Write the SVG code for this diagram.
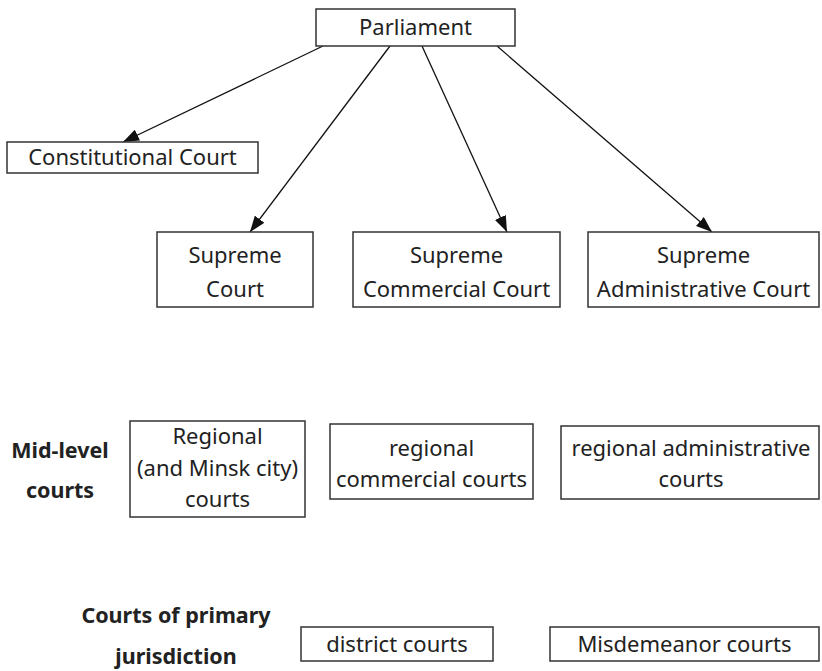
<svg xmlns="http://www.w3.org/2000/svg" width="822" height="671" viewBox="0 0 822 671">
<defs>
<style>
.box{fill:#fff;stroke:#333;stroke-width:1.5}
.t{font-family:"Noto Sans","Open Sans",sans-serif;font-size:22px;fill:#222;text-anchor:middle}
.b{font-family:"Noto Sans","Open Sans",sans-serif;font-size:21.5px;font-weight:bold;fill:#222;text-anchor:middle}
.c{stroke:#111;stroke-width:1.3;fill:none;marker-end:url(#ah)}
</style>
<marker id="ah" viewBox="0 0 16 12" refX="16" refY="6" markerWidth="16" markerHeight="12" markerUnits="userSpaceOnUse" orient="auto">
<path d="M0,0 L16,6 L0,12 z" fill="#111"/>
</marker>
</defs>
<rect width="822" height="671" fill="#fff"/>
<g id="connectors">
<line class="c" x1="323" y1="46" x2="123" y2="142"/>
<line class="c" x1="390" y1="46" x2="250" y2="232"/>
<line class="c" x1="422" y1="46" x2="507" y2="232"/>
<line class="c" x1="497" y1="46" x2="712" y2="232"/>
</g>
<g id="parliament"><rect class="box" x="316" y="9" width="199" height="37"/><text class="t" x="415.5" y="35">Parliament</text></g>
<g id="constitutional"><rect class="box" x="7" y="142" width="251" height="31"/><text class="t" x="132.5" y="165">Constitutional Court</text></g>
<g id="supreme"><rect class="box" x="157" y="232" width="156" height="75"/><text class="t" x="235" y="263">Supreme</text><text class="t" x="235" y="297">Court</text></g>
<g id="supreme-commercial"><rect class="box" x="353" y="232" width="207" height="75"/><text class="t" x="456.5" y="263">Supreme</text><text class="t" x="456.5" y="297">Commercial Court</text></g>
<g id="supreme-administrative"><rect class="box" x="588" y="232" width="231" height="75"/><text class="t" x="703.5" y="263">Supreme</text><text class="t" x="703.5" y="297">Administrative Court</text></g>
<g id="label-mid"><text class="b" x="60" y="458">Mid-level</text><text class="b" x="60" y="498">courts</text></g>
<g id="regional"><rect class="box" x="130" y="421" width="175" height="96"/><text class="t" x="217.5" y="444">Regional</text><text class="t" x="217.5" y="476">(and Minsk city)</text><text class="t" x="217.5" y="507">courts</text></g>
<g id="regional-commercial"><rect class="box" x="330" y="424" width="203" height="75"/><text class="t" x="431.5" y="456">regional</text><text class="t" x="431.5" y="487">commercial courts</text></g>
<g id="regional-administrative"><rect class="box" x="561" y="426" width="258" height="73"/><text class="t" x="691" y="456">regional administrative</text><text class="t" x="691" y="487">courts</text></g>
<g id="label-primary"><text class="b" x="176" y="623">Courts of primary</text><text class="b" x="176" y="664">jurisdiction</text></g>
<g id="district"><rect class="box" x="301" y="627" width="192" height="34"/><text class="t" x="397" y="652">district courts</text></g>
<g id="misdemeanor"><rect class="box" x="550" y="627" width="269" height="34"/><text class="t" x="684.5" y="652">Misdemeanor courts</text></g>
</svg>
